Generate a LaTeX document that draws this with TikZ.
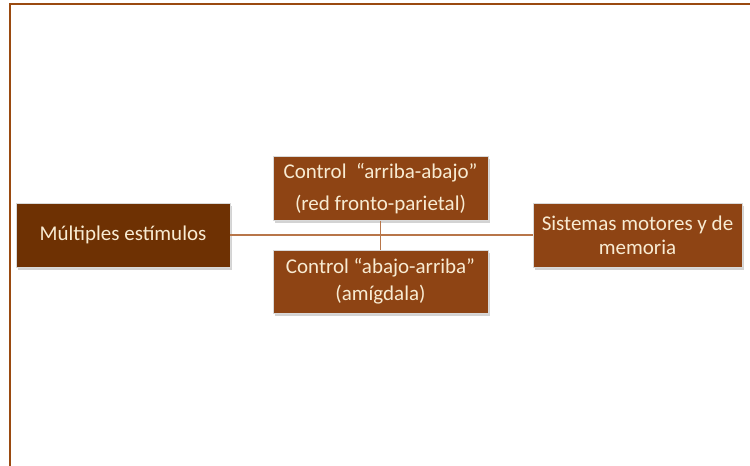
\documentclass[tikz,border=0pt]{standalone}
\usepackage{fontspec}
\setmainfont{Carlito}
\usepackage{xcolor}
\usetikzlibrary{shadows}

\definecolor{darkbox}{HTML}{6E3103}
\definecolor{midbox}{HTML}{8E4414}
\definecolor{linkcol}{HTML}{B8764A}
\definecolor{framecol}{HTML}{9A4A10}
\definecolor{textcol}{HTML}{F8EBD2}

\tikzset{
  box/.style={draw=white!85!black, line width=0.6pt, text=textcol, align=center,
    inner sep=0pt, font=\fontsize{21}{24}\selectfont,
    drop shadow={opacity=0.35, shadow xshift=2pt, shadow yshift=-2.5pt}},
  link/.style={draw=linkcol, line width=1.3pt}
}

\begin{document}
\begin{tikzpicture}[x=1pt,y=-1pt]
\useasboundingbox (0,0) rectangle (750,466);

% Page frame (top and left edges only)
\draw[framecol, line width=2pt] (750,3.5) -- (9.5,3.5) -- (9.5,466);

% Boxes
\node[box, fill=darkbox, minimum width=214pt, minimum height=64pt] (stim) at (123,235)
    {Múltiples estímulos};
\node[box, fill=midbox, minimum width=215pt, minimum height=64pt] (topdown) at (380.5,188.5)
    {Control \ “arriba-abajo”\\[8pt](red fronto-parietal)};
\node[box, fill=midbox, minimum width=215pt, minimum height=63pt] (bottomup) at (380.5,281.5)
    {Control “abajo-arriba”\\[3pt](amígdala)};
\node[box, fill=midbox, minimum width=209pt, minimum height=64pt] (motor) at (637.5,235)
    {Sistemas motores y de\\memoria};

% Connectors
\draw[link] (stim.east) -- (motor.west);
\draw[link] (topdown.south) -- (bottomup.north);

\end{tikzpicture}
\end{document}
